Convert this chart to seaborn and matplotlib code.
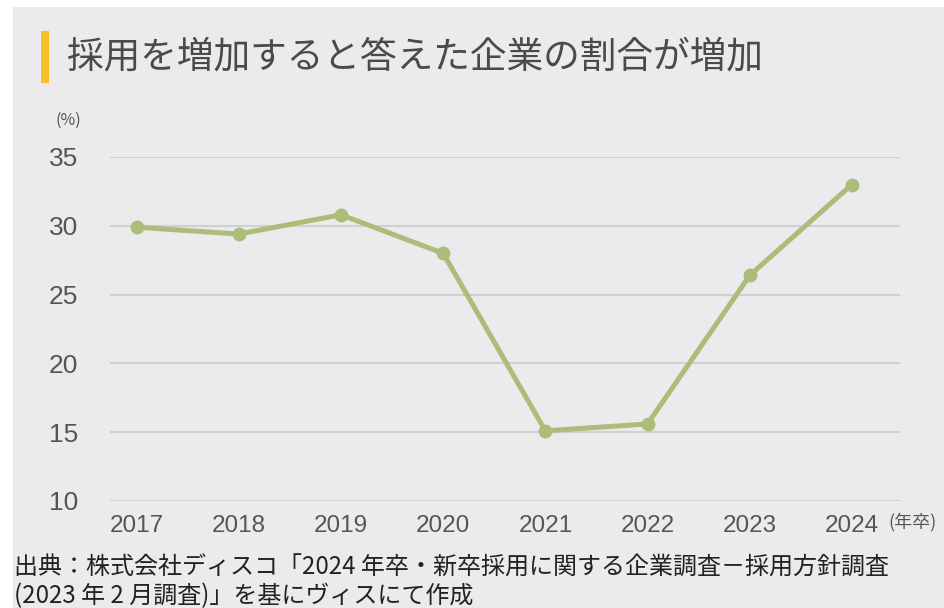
import matplotlib
matplotlib.use("Agg")
import matplotlib.pyplot as plt
from matplotlib.patches import Rectangle
import pandas as pd
import seaborn as sns

# data
years = [2017, 2018, 2019, 2020, 2021, 2022, 2023, 2024]
share = [29.9, 29.4, 30.8, 28.0, 15.1, 15.6, 26.4, 33.0]
y_ticks = [10, 15, 20, 25, 30, 35]

title = "採用を増加すると答えた企業の割合が増加"
source_lines = [
    "出典：株式会社ディスコ「2024 年卒・新卒採用に関する企業調査－採用方針調査",
    "(2023 年 2 月調査)」を基にヴィスにて作成",
]

sns.set_theme(style="white")
plt.rcParams["font.family"] = ["Noto Sans CJK JP", "DejaVu Sans"]

BG = "#EBEBED"
LINE = "#ABBD78"
TXT = "#555555"

W, H = 944, 608
fig = plt.figure(figsize=(W / 100, H / 100), dpi=100, facecolor="white")
fig.patches.append(Rectangle((13 / W, 0), 1, 1 - 7 / H, transform=fig.transFigure,
                             facecolor=BG, edgecolor="none", zorder=-10))

# axes placed in pixel coordinates of the reference
left, right, top, bottom = 110, 900, 157, 501
ax = fig.add_axes([left / W, 1 - bottom / H, (right - left) / W, (bottom - top) / H])
ax.set_facecolor("none")

df = pd.DataFrame({"year": years, "share": share})
sns.lineplot(data=df, x="year", y="share", ax=ax, color=LINE, linewidth=3.6,
             marker="o", markersize=10, markeredgewidth=0, clip_on=False, zorder=5)

ax.set_xlim(years[0] - 0.26, years[-1] + 0.47)
ax.set_ylim(10, 35)
ax.set_yticks(y_ticks)
ax.set_xticks(years)
ax.set_xticklabels([str(y) for y in years])
ax.grid(axis="y", color="#D0D0D3", linewidth=1.5)
ax.grid(axis="x", visible=False)
for s in ax.spines.values():
    s.set_visible(False)
ax.set_xlabel("")
ax.set_ylabel("")
ax.tick_params(axis="y", length=0, pad=23, labelsize=19, labelcolor=TXT)
ax.tick_params(axis="x", length=0, pad=10, labelsize=17.5, labelcolor=TXT)
for lab in ax.get_yticklabels() + ax.get_xticklabels():
    lab.set_family(["Liberation Sans", "DejaVu Sans"])

# title with yellow bar
fig.patches.append(Rectangle((41 / W, 1 - 83 / H), 8 / W, 52 / H, transform=fig.transFigure,
                             facecolor="#F8C12B", edgecolor="none"))
fig.text(67 / W, 1 - 57 / H, title, fontsize=26.4, color="#4A4A4A", va="center", ha="left")

# unit labels
fig.text(68 / W, 1 - 120 / H, "(%)", fontsize=11.5, color=TXT, va="center", ha="center")
fig.text(912 / W, 1 - 522 / H, "(年卒)", fontsize=13, color=TXT, va="center", ha="center")

# source
fig.text(14 / W, 1 - 568 / H, source_lines[0], fontsize=17.3, color="#222222", va="center", ha="left")
fig.text(14 / W, 1 - 596 / H, source_lines[1], fontsize=17.3, color="#222222", va="center", ha="left")

fig.savefig("out.png", dpi=100, facecolor=fig.get_facecolor())
